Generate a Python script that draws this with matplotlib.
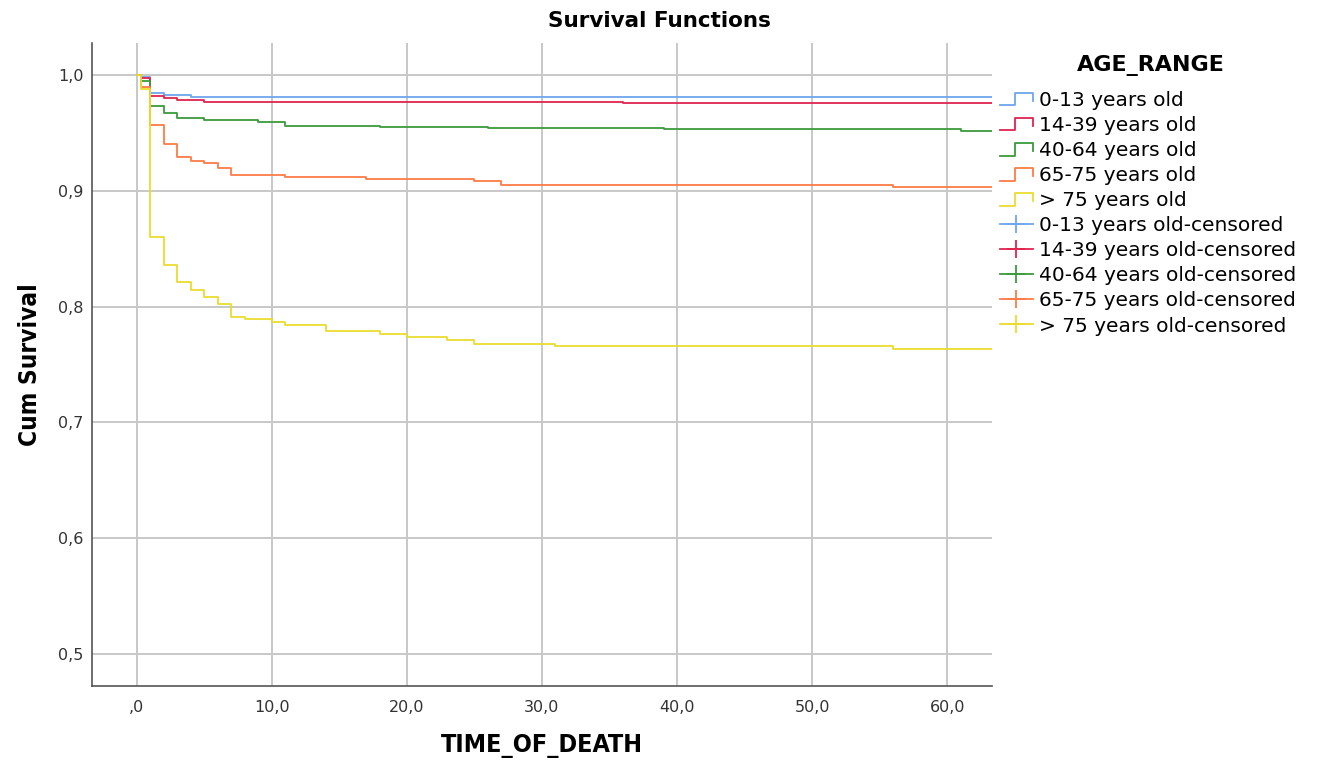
import matplotlib
matplotlib.use("Agg")
import matplotlib.pyplot as plt
from matplotlib.lines import Line2D
from matplotlib.legend_handler import HandlerBase
from matplotlib.ticker import FuncFormatter

# step times (months) and cumulative survival
groups = ["0-13 years old", "14-39 years old", "40-64 years old", "65-75 years old", "> 75 years old"]
colors = ["#6ea6ee", "#e0234e", "#3c9a3c", "#ff7b47", "#e9dc2e"]

t_0_13 = [0, 0.3, 1, 2, 4, 64]
s_0_13 = [1.0, 0.998, 0.984, 0.983, 0.981, 0.981]

t_14_39 = [0, 0.3, 1, 2, 3, 5, 9, 36, 64]
s_14_39 = [1.0, 0.997, 0.982, 0.980, 0.978, 0.977, 0.9765, 0.9755, 0.9755]

t_40_64 = [0, 0.3, 1, 2, 3, 5, 9, 11, 18, 26, 39, 61, 64]
s_40_64 = [1.0, 0.995, 0.973, 0.967, 0.963, 0.961, 0.959, 0.956, 0.955, 0.954, 0.953, 0.952, 0.952]

t_65_75 = [0, 0.3, 1, 2, 3, 4, 5, 6, 7, 11, 17, 25, 27, 56, 64]
s_65_75 = [1.0, 0.990, 0.957, 0.940, 0.929, 0.926, 0.924, 0.920, 0.914, 0.912, 0.910, 0.908, 0.905, 0.903, 0.903]

t_over_75 = [0, 0.3, 1, 2, 3, 4, 5, 6, 7, 8, 10, 11, 14, 18, 20, 23, 25, 31, 56, 64]
s_over_75 = [1.0, 0.988, 0.860, 0.836, 0.821, 0.814, 0.808, 0.802, 0.791, 0.789, 0.787, 0.784, 0.779,
             0.776, 0.7735, 0.771, 0.768, 0.766, 0.7635, 0.7635]

times = [t_0_13, t_14_39, t_40_64, t_65_75, t_over_75]
survs = [s_0_13, s_14_39, s_40_64, s_65_75, s_over_75]

x_ticks = [0, 10, 20, 30, 40, 50, 60]
y_ticks = [0.5, 0.6, 0.7, 0.8, 0.9, 1.0]


class StepHandler(HandlerBase):
    """draw the little step glyph SPSS uses in the legend"""
    def create_artists(self, legend, orig_handle, xdescent, ydescent, width, height, fontsize, trans):
        x0 = -xdescent
        x1 = x0 + width
        xm = x0 + 0.45 * width
        y0 = -ydescent + 0.05 * height
        y1 = -ydescent + 0.95 * height
        line = Line2D([x0, xm, xm, x1, x1], [y0, y0, y1, y1, y0 + 0.35 * height],
                      color=orig_handle.get_color(), lw=1.3, transform=trans)
        return [line]


fig = plt.figure(figsize=(13.19, 7.66), dpi=100)
ax = fig.add_axes([0.0698, 0.1044, 0.6822, 0.8395])

for t, s, c in zip(times, survs, colors):
    ax.step(t, s, where="post", color=c, lw=1.3)

ax.set_xlim(-3.3, 63.3)
ax.set_ylim(0.4724, 1.0276)
ax.set_xticks(x_ticks)
ax.set_yticks(y_ticks)
ax.xaxis.set_major_formatter(FuncFormatter(lambda v, p: ",0" if v == 0 else f"{v:.1f}".replace(".", ",")))
ax.yaxis.set_major_formatter(FuncFormatter(lambda v, p: f"{v:.1f}".replace(".", ",")))
ax.tick_params(length=0, labelsize=11.5, colors="#333333", pad=6)
ax.tick_params(axis="x", pad=10)
ax.grid(True, color="#c8c8c8", lw=1.4)
ax.set_axisbelow(True)
for side in ["top", "right"]:
    ax.spines[side].set_visible(False)
for side in ["left", "bottom"]:
    ax.spines[side].set_color("#555555")
    ax.spines[side].set_linewidth(1.2)

ax.set_xlabel("TIME_OF_DEATH", fontsize=18, fontweight="bold", fontstretch="condensed", labelpad=14)
ax.set_ylabel("Cum Survival", fontsize=17.5, fontweight="bold", fontstretch="condensed", labelpad=12)
fig.text(0.5, 0.972, "Survival Functions", ha="center", va="center", fontsize=15.5, fontweight="bold")

step_handles = [Line2D([], [], color=c) for c in colors]
cens_handles = [Line2D([], [], color=c, marker="+", markersize=12.5, markeredgewidth=1.3, lw=1.3) for c in colors]
labels = groups + [g + "-censored" for g in groups]
handler_map = {h: StepHandler() for h in step_handles}
leg = fig.legend(step_handles + cens_handles, labels, handler_map=handler_map,
                 loc="upper left", bbox_to_anchor=(0.758, 0.881), frameon=False,
                 fontsize=14.5, handlelength=1.65, handletextpad=0.3, labelspacing=0.30,
                 borderaxespad=0, borderpad=0)
# legend heading sits centred above the entries
fig.text(0.8725, 0.915, "AGE_RANGE", ha="center", va="center", fontsize=16, fontweight="bold")

fig.savefig("out.png", dpi=100)
